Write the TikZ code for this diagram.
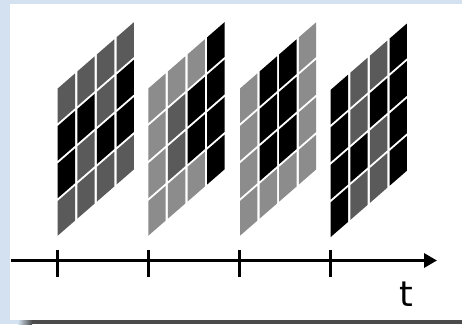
\documentclass[tikz,border=0pt]{standalone}
\usepackage{fontspec}
\newfontfamily\tfont{DejaVu Sans}
\usetikzlibrary{arrows.meta}
\definecolor{bgblue}{RGB}{211,225,240}
\definecolor{cK}{RGB}{0,0,0}
\definecolor{cD}{RGB}{90,90,90}
\definecolor{cL}{RGB}{140,140,140}
\definecolor{shadowgray}{RGB}{75,75,75}
\newcommand\cellgrid[3]{%
  \foreach \colstr [count=\ci from 0] in {#3} {
    \foreach \clr [count=\ri from 0] in \colstr {
      \pgfmathsetmacro\xl{#1+\ci*19.6}
      \pgfmathsetmacro\yl{#2-\ci*19.6*0.87-(3-\ri)*37.5}
      \fill[fill=c\clr] (\xl,\yl) -- ++(17.4,-15.14) -- ++(0,-34.7) -- ++(-17.4,15.14) -- cycle;
    }
  }
}
\tikzset{
  axisline/.style={line width=3.6pt,-{Triangle[length=13pt,width=14pt]}},
  tickline/.style={line width=3pt}
}
\begin{document}
\begin{tikzpicture}[x=1pt,y=-1pt]
\useasboundingbox (0,0) rectangle (462,324);
\fill[bgblue] (0,0) rectangle (462,324);
\fill[white] (10,4) rectangle (462,320);
\fill[shadowgray] (32,320) rectangle (462,324);
\shade[left color=bgblue,right color=shadowgray] (18,320) rectangle (32,324);
\cellgrid{57.7}{235.7}{{D,K,K,D},{D,K,D,D},{D,D,K,D},{D,K,K,D}}
\cellgrid{148.3}{235.7}{{L,L,L,L},{L,D,D,L},{L,K,K,L},{K,K,K,K}}
\cellgrid{240}{235.7}{{L,L,L,L},{K,K,K,L},{K,K,K,L},{L,L,L,L}}
\cellgrid{330.7}{237}{{K,K,K,K},{D,D,K,D},{D,K,D,D},{K,K,K,K}}
\coordinate (axstart) at (11,260.5);
\coordinate (axend) at (437,260.5);
\draw[axisline] (axstart) -- (axend);
\foreach \x in {57.7,148.3,239.3,330.7} \draw[tickline] (\x,250) -- (\x,277);
\node[font=\tfont\fontsize{35}{35}\selectfont, anchor=base, inner sep=0pt] (tlabel) at (406.8,306) {t};
\end{tikzpicture}
\end{document}
